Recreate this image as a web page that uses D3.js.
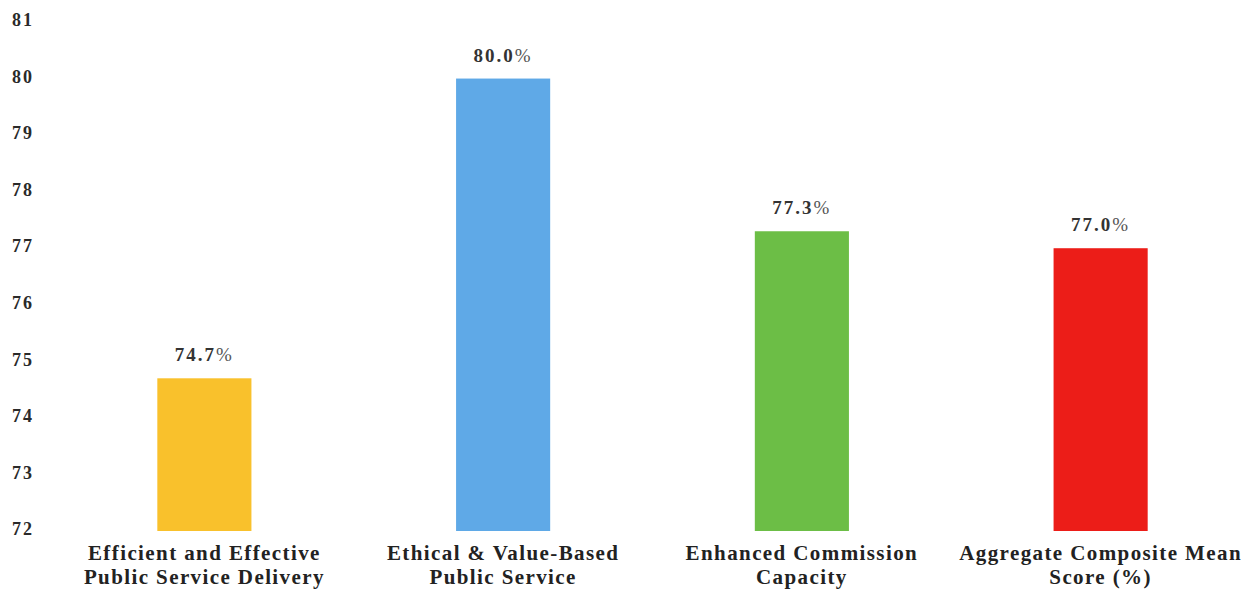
<!DOCTYPE html>
<html>
<head>
<meta charset="utf-8">
<script src="https://cdn.jsdelivr.net/npm/d3@7"></script>
<style>
  html, body { margin: 0; padding: 0; background: #fff; }
  svg { display: block; }
</style>
</head>
<body>
<div id="chart"></div>
<script>
// Composite mean scores by pillar
var categories = [
    ["Efficient and Effective", "Public Service Delivery"],
    ["Ethical & Value-Based", "Public Service"],
    ["Enhanced Commission", "Capacity"],
    ["Aggregate Composite Mean", "Score (%)"]
];
var scores = [74.7, 80.0, 77.3, 77.0];
var barColors = ["#F9C12C", "#5FA9E7", "#6CBE46", "#EC1D18"];
var yTicks = [72, 73, 74, 75, 76, 77, 78, 79, 80, 81];

var totalW = 1254, totalH = 589;

var svg = d3.select("#chart").append("svg")
    .attr("width", totalW)
    .attr("height", totalH);

var keys = categories.map(function(c) { return c.join(" "); });

// --- Scales ---
var x = d3.scaleBand()
    .domain(keys)
    .range([55, 1250])
    .paddingInner(0.685)
    .paddingOuter(0.3425);

var y = d3.scaleLinear()
    .domain([72, 81])
    .range([531, 22]);

var serif = "'Liberation Serif', 'DejaVu Serif', 'Times New Roman', serif";

// --- Y axis (labels only) ---
var yAxis = svg.append("g")
    .attr("transform", "translate(12,0)")
    .call(d3.axisRight(y).tickValues(yTicks).tickSize(0).tickPadding(0).tickFormat(d3.format("d")));
yAxis.select(".domain").remove();
yAxis.selectAll("text")
    .attr("dy", "0.32em")
    .attr("y", -2)
    .style("font-family", serif)
    .style("font-size", "18px")
    .style("font-weight", "bold")
    .style("letter-spacing", "2px")
    .style("fill", "#2a2a2a");

// --- Bars ---
svg.append("g")
    .selectAll("rect")
    .data(scores)
    .join("rect")
    .attr("x", function(d, i) { return x(keys[i]); })
    .attr("y", function(d) { return y(d); })
    .attr("width", x.bandwidth())
    .attr("height", function(d) { return y(72) - y(d); })
    .attr("fill", function(d, i) { return barColors[i]; });

// --- Value labels (number bold, percent sign lighter) ---
var valLabels = svg.append("g")
    .selectAll("text")
    .data(scores)
    .join("text")
    .attr("x", function(d, i) { return x(keys[i]) + x.bandwidth() / 2; })
    .attr("y", function(d) { return y(d) - 17; })
    .attr("text-anchor", "middle")
    .style("font-family", serif)
    .style("font-size", "19px")
    .style("letter-spacing", "2px")
    .style("fill", "#333");

valLabels.append("tspan")
    .style("font-weight", "bold")
    .text(function(d) { return d.toFixed(1); });
valLabels.append("tspan")
    .style("font-weight", "normal")
    .style("fill", "#555")
    .text("%");

// --- Category labels (two lines) ---
var catLabels = svg.append("g")
    .selectAll("text")
    .data(categories)
    .join("text")
    .attr("x", function(d, i) { return x(keys[i]) + x.bandwidth() / 2; })
    .attr("y", 560)
    .attr("text-anchor", "middle")
    .style("font-family", serif)
    .style("font-size", "21px")
    .style("font-weight", "bold")
    .style("letter-spacing", "1.4px")
    .style("fill", "#222");

catLabels.selectAll("tspan")
    .data(function(d) { return d; })
    .join("tspan")
    .attr("x", function() { return d3.select(this.parentNode).attr("x"); })
    .attr("dy", function(d, i) { return i === 0 ? 0 : 24; })
    .text(function(d) { return d; });
</script>
</body>
</html>
